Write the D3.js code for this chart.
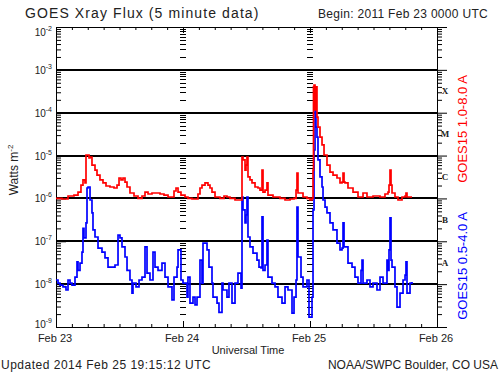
<!DOCTYPE html>
<html>
<head>
<meta charset="utf-8">
<script src="https://cdn.jsdelivr.net/npm/d3@7"></script>
<style>
  body { margin: 0; background: #fff; }
  text { font-family: "Liberation Sans", Arial, sans-serif; fill: #222; }
</style>
</head>
<body>
<svg id="chart" width="500" height="375"></svg>
<script>
// GOES X-ray flux, 3 days starting at begin date, hours since begin
const beginDate = new Date(Date.UTC(2011, 1, 23));

// long channel 1.0-8.0 A (red)
const longHours = [0.0, 1.13, 2.27, 3.40, 4.16, 4.72, 5.10, 5.48, 5.67, 6.05, 6.24, 6.43, 6.80, 7.37, 7.75, 8.31, 8.88, 9.45, 10.20, 10.96,
  11.53, 11.91, 12.28, 12.66, 13.04, 13.42, 13.98, 14.74, 15.50, 16.25, 16.82, 17.39, 18.14, 18.90, 19.65, 20.41, 21.17, 21.73, 22.30, 22.68,
  23.06, 23.62, 24.38, 24.94, 25.70, 26.46, 26.83, 27.21, 27.59, 28.16, 28.72, 29.10, 29.48, 30.05, 30.99, 31.75, 32.31, 32.88, 33.83, 34.96,
  35.15, 35.34, 35.72, 35.91, 36.09, 36.28, 36.66, 37.04, 37.61, 38.17, 38.55, 38.93, 39.12, 39.50, 39.87, 40.06, 41.01, 42.33, 43.28, 44.22,
  44.98, 45.36, 45.54, 45.73, 46.68, 47.43, 48.00, 48.38, 48.57, 48.66, 48.76, 48.95, 49.13, 49.32, 49.51, 49.89, 50.27, 50.65, 51.21, 51.78,
  52.35, 53.10, 53.67, 54.05, 54.24, 54.43, 54.62, 55.18, 56.13, 57.07, 58.02, 58.77, 59.91, 61.23, 62.17, 62.74, 62.93, 63.12, 63.31, 63.50,
  64.06, 64.63, 65.39, 65.96, 66.14, 66.33, 67.28];
const longFlux = [1.0e-6, 9.7e-7, 1.14e-6, 1.2e-6, 1.41e-6, 2.05e-6, 2.7e-6, 2.3e-6, 1.03e-5, 1.03e-5, 8.8e-6, 9.2e-6, 6.0e-6, 4.6e-6, 3.5e-6, 2.7e-6, 2.3e-6, 1.95e-6, 1.85e-6, 1.75e-6,
  2.05e-6, 3.0e-6, 2.7e-6, 3.0e-6, 2.4e-6, 1.85e-6, 1.34e-6, 1.14e-6, 1.0e-6, 1.14e-6, 1.41e-6, 1.27e-6, 1.34e-6, 1.34e-6, 1.27e-6, 1.2e-6, 1.08e-6, 1.08e-6, 1.49e-6, 1.75e-6,
  1.41e-6, 1.2e-6, 1.08e-6, 1.0e-6, 9.7e-7, 9.7e-7, 1.27e-6, 1.75e-6, 2.05e-6, 2.3e-6, 2.05e-6, 1.75e-6, 1.41e-6, 1.08e-6, 1.0e-6, 1.14e-6, 1.08e-6, 1.0e-6, 9.2e-7, 9.2e-7,
  9.2e-6, 7.9e-6, 4.6e-6, 6.0e-6, 9.2e-6, 3.2e-6, 2.7e-6, 2.3e-6, 1.85e-6, 1.75e-6, 1.57e-6, 4.6e-6, 1.41e-6, 1.57e-6, 2.3e-6, 1.2e-6, 1.08e-6, 1.0e-6, 9.2e-7, 9.7e-7,
  1.0e-6, 1.57e-6, 3.9e-6, 1.34e-6, 1.08e-6, 1.0e-6, 9.2e-7, 1.0e-6, 4.6e-6, 4.0e-4, 4.4e-4, 1.16e-4, 4.0e-4, 7.9e-5, 4.6e-5, 2.7e-5, 1.77e-5, 1.03e-5, 6.0e-6, 4.1e-6,
  3.5e-6, 3.0e-6, 2.3e-6, 2.4e-6, 3.9e-6, 2.4e-6, 2.3e-6, 1.75e-6, 1.41e-6, 1.08e-6, 1.34e-6, 1.08e-6, 1.14e-6, 1.08e-6, 1.27e-6, 1.41e-6, 2.05e-6, 4.6e-6, 2.05e-6, 1.34e-6,
  1.08e-6, 9.2e-7, 1.08e-6, 1.14e-6, 1.34e-6, 1.08e-6, 1.08e-6];

// short channel 0.5-4.0 A (blue)
const shortHours = [0.00, 0.38, 0.76, 1.32, 1.89, 2.27, 2.65, 3.02, 3.59, 3.97, 4.16, 4.54, 4.91, 5.10, 5.29, 5.67, 5.86, 6.05, 6.43, 6.80,
  6.99, 7.37, 7.94, 8.69, 9.26, 9.83, 10.58, 11.15, 11.72, 12.09, 12.47, 13.04, 13.42, 13.98, 14.36, 14.55, 15.12, 15.69, 16.25, 16.82,
  17.20, 17.76, 18.33, 18.71, 19.28, 20.03, 20.60, 21.17, 21.92, 22.30, 22.87, 23.06, 23.62, 24.00, 24.76, 24.94, 25.32, 25.89, 26.27, 26.65,
  27.21, 27.59, 27.78, 28.54, 28.91, 29.48, 29.67, 30.43, 30.80, 31.37, 31.56, 32.31, 32.69, 33.26, 33.83, 34.39, 34.96, 35.15, 35.34, 35.72,
  35.91, 36.09, 36.28, 36.66, 37.23, 37.98, 38.36, 38.74, 38.93, 39.12, 39.50, 39.87, 40.06, 40.82, 41.39, 41.95, 42.71, 43.28, 43.84, 44.60,
  44.98, 45.36, 45.54, 45.73, 46.30, 46.68, 47.43, 47.81, 48.38, 48.57, 48.76, 48.95, 49.13, 49.32, 49.51, 49.89, 50.27, 50.46, 50.84, 51.21,
  51.78, 52.35, 53.10, 53.67, 54.05, 54.24, 54.43, 55.18, 55.94, 56.50, 57.07, 57.64, 57.83, 58.02, 58.77, 59.34, 59.91, 60.66, 61.23, 61.80,
  62.55, 62.74, 62.93, 63.12, 63.31, 63.50, 64.06, 64.44, 65.01, 65.58, 65.96, 66.14, 66.33, 66.90, 67.28];
const shortFlux = [1.25e-8, 1.06e-8, 9.5e-9, 8.6e-9, 7.3e-9, 1.25e-8, 1.06e-8, 9.5e-9, 1.46e-8, 3.3e-8, 2.1e-8, 3.1e-8, 5.6e-8, 2.0e-7, 1.2e-7, 2.7e-7, 1.75e-6, 1.85e-6, 9.2e-7, 4.6e-7,
  1.84e-7, 1.26e-7, 6.9e-8, 5.6e-8, 4.1e-8, 2.5e-8, 2.5e-8, 2.8e-8, 1.4e-7, 1.2e-7, 7.4e-8, 4.3e-8, 2.1e-8, 1.25e-8, 6.2e-9, 1.06e-8, 8.6e-9, 1.25e-8, 1.46e-8, 7.4e-8,
  1.8e-8, 1.25e-8, 5.6e-8, 2.5e-8, 2.1e-8, 3.1e-8, 1.46e-8, 8.6e-9, 4.3e-9, 1.46e-8, 2.5e-8, 6.3e-8, 1.25e-8, 1.06e-8, 5.0e-9, 1.46e-8, 3.6e-9, 5.0e-9, 3.3e-9, 5.0e-9,
  3.65e-8, 1.06e-8, 9.1e-8, 6.3e-8, 2.5e-8, 1.06e-8, 5.0e-9, 3.6e-9, 2.2e-9, 1.06e-8, 7.3e-9, 5.0e-9, 1.06e-8, 3.6e-9, 1.06e-8, 1.8e-8, 8.1e-9, 1.08e-6, 5.4e-7, 2.7e-7,
  4.1e-7, 1.08e-6, 1.26e-7, 7.4e-8, 5.3e-8, 3.65e-8, 2.5e-8, 2.4e-8, 3.7e-7, 2.1e-8, 2.8e-8, 1.07e-7, 1.46e-8, 1.06e-8, 8.6e-9, 5.0e-9, 3.6e-9, 8.6e-9, 7.3e-9, 2.1e-9,
  5.0e-9, 1.25e-8, 6.3e-7, 4.3e-8, 1.46e-8, 8.6e-9, 1.25e-8, 1.7e-9, 5.0e-9, 5.4e-7, 1.35e-5, 1.5e-4, 4.6e-5, 2.7e-5, 7.9e-6, 3.2e-6, 1.85e-6, 9.2e-7, 6.3e-7, 4.6e-7,
  2.7e-7, 1.84e-7, 9.1e-8, 6.3e-8, 6.9e-8, 2.7e-7, 7.4e-8, 3.1e-8, 2.5e-8, 1.46e-8, 1.06e-8, 2.1e-8, 3.65e-8, 1.06e-8, 1.25e-8, 8.6e-9, 1.06e-8, 7.3e-9, 1.46e-8, 1.06e-8,
  3.65e-8, 2.1e-8, 6.3e-8, 3.5e-7, 3.65e-8, 2.5e-8, 8.6e-9, 2.9e-9, 6.2e-9, 1.25e-8, 1.63e-8, 3.3e-8, 6.2e-9, 1.06e-8, 1.12e-8];

const decades = [1e-2, 1e-3, 1e-4, 1e-5, 1e-6, 1e-7, 1e-8, 1e-9];
const decadeLabels = ["-2", "-3", "-4", "-5", "-6", "-7", "-8", "-9"];
const flareClasses = ["X", "M", "C", "B", "A"];
const flareClassFlux = [1e-4, 1e-5, 1e-6, 1e-7, 1e-8];
const dayLabels = ["Feb 23", "Feb 24", "Feb 25", "Feb 26"];

const svg = d3.select("#chart");
const pLeft = 56, pRight = 437, pTop = 27, pBottom = 327;

const x = d3.scaleUtc()
  .domain([beginDate, d3.utcDay.offset(beginDate, 3)])
  .range([pLeft, pRight]);
const y = d3.scaleLog().domain([1e-9, 1e-2]).range([pBottom, pTop]);

const toDate = h => new Date(beginDate.getTime() + h * 3600e3);
const longData = longHours.map((h, i) => ({t: toDate(h), v: longFlux[i]}));
const shortData = shortHours.map((h, i) => ({t: toDate(h), v: shortFlux[i]}));

// minor log ticks 2..9 in each decade
const minorTicks = [];
decades.slice(1).forEach(d => { for (let m = 2; m <= 9; m++) minorTicks.push(d * m); });
const days = x.ticks(d3.utcDay.every(1));

// horizontal grid lines
svg.append("g").selectAll("line")
  .data(decades.slice(1, -1))
  .enter().append("line")
  .attr("x1", pLeft).attr("x2", pRight)
  .attr("y1", d => Math.round(y(d))).attr("y2", d => Math.round(y(d)))
  .attr("stroke", "#000").attr("stroke-width", 2)
  .attr("shape-rendering", "crispEdges");

// minor tick columns at day boundaries
days.slice(1, -1).forEach(day => {
  svg.append("g").selectAll("line")
    .data(minorTicks)
    .enter().append("line")
    .attr("x1", Math.round(x(day)) - 3).attr("x2", Math.round(x(day)) + 3)
    .attr("y1", d => Math.round(y(d)) + 0.5).attr("y2", d => Math.round(y(d)) + 0.5)
    .attr("stroke", "#000").attr("stroke-width", 1);
});

// frame axes
function styleAxis(g) {
  g.select(".domain").attr("stroke", "#000");
  g.selectAll(".tick line").attr("stroke", "#000");
  g.selectAll("text").remove();
}
const hourTicks = x.ticks(d3.utcHour.every(3));
svg.append("g").attr("transform", `translate(0,${pTop})`)
  .call(d3.axisTop(x).tickValues(hourTicks).tickSize(-3).tickSizeOuter(0)).call(styleAxis);
svg.append("g").attr("transform", `translate(0,${pTop})`)
  .call(d3.axisTop(x).tickValues(days).tickSize(-6).tickSizeOuter(0)).call(styleAxis);
svg.append("g").attr("transform", `translate(0,${pBottom})`)
  .call(d3.axisBottom(x).tickValues(hourTicks).tickSize(-3).tickSizeOuter(0)).call(styleAxis);
svg.append("g").attr("transform", `translate(0,${pBottom})`)
  .call(d3.axisBottom(x).tickValues(days).tickSize(-6).tickSizeOuter(0)).call(styleAxis);

[[pLeft, d3.axisLeft, -1], [pRight, d3.axisRight, 1]].forEach(([px, axisFn, s]) => {
  svg.append("g").attr("transform", `translate(${px},0)`)
    .call(axisFn(y).tickValues(minorTicks).tickSize(5 * s).tickSizeOuter(0)).call(styleAxis);
  svg.append("g").attr("transform", `translate(${px},0)`)
    .call(axisFn(y).tickValues(decades).tickSize(10 * s).tickSizeOuter(0)).call(styleAxis);
});

// y tick labels (end labels nudged inside the frame)
const yl = svg.append("g").selectAll("text")
  .data(decades)
  .enter().append("text")
  .attr("x", 52)
  .attr("y", (d, i) => y(d) + 4 + (i === 0 ? 5 : 0) - (i === decades.length - 1 ? 3 : 0))
  .attr("text-anchor", "end").attr("font-size", 10);
yl.append("tspan").text("10");
yl.append("tspan").attr("dy", -5).attr("font-size", 7).text((d, i) => decadeLabels[i]);

// flare class letters
svg.append("g").selectAll("text")
  .data(flareClasses)
  .enter().append("text")
  .attr("x", 445).attr("y", (d, i) => y(flareClassFlux[i] * Math.sqrt(10)) + 3)
  .attr("text-anchor", "middle")
  .style("font-family", "'Liberation Serif', serif").style("font-weight", "bold")
  .attr("font-size", 9).text(d => d);

// day labels
svg.append("g").selectAll("text")
  .data(days)
  .enter().append("text")
  .attr("x", d => x(d) - 1).attr("y", 342)
  .attr("text-anchor", "middle").attr("font-size", 11)
  .text((d, i) => dayLabels[i]);

// data lines
svg.append("clipPath").attr("id", "plotclip")
  .append("rect").attr("x", pLeft).attr("y", pTop).attr("width", pRight - pLeft).attr("height", pBottom - pTop);
const line = d3.line().x(d => x(d.t)).y(d => y(d.v)).curve(d3.curveStepAfter);
svg.append("path").datum(shortData)
  .attr("clip-path", "url(#plotclip)")
  .attr("d", line).attr("fill", "none").attr("stroke", "#0000ff").attr("stroke-width", 1.7);
svg.append("path").datum(longData)
  .attr("clip-path", "url(#plotclip)")
  .attr("d", line).attr("fill", "none").attr("stroke", "#ff0000").attr("stroke-width", 1.7);

// titles and notes
svg.append("text").attr("x", 25).attr("y", 18).attr("font-size", 14)
  .attr("letter-spacing", 1.1).text("GOES Xray Flux (5 minute data)");
svg.append("text").attr("x", 318).attr("y", 18).attr("font-size", 12)
  .attr("letter-spacing", 0.3).text("Begin: 2011 Feb 23 0000 UTC");
svg.append("text").attr("x", 248).attr("y", 354).attr("text-anchor", "middle").attr("font-size", 11).text("Universal Time");
svg.append("text").attr("x", 1).attr("y", 369).attr("font-size", 12)
  .attr("letter-spacing", 0.5).text("Updated 2014 Feb 25 19:15:12 UTC");
svg.append("text").attr("x", 498).attr("y", 369).attr("text-anchor", "end").attr("font-size", 12).text("NOAA/SWPC Boulder, CO USA");

const yt = svg.append("text").attr("transform", "translate(18,170) rotate(-90)")
  .attr("text-anchor", "middle").attr("font-size", 12);
yt.append("tspan").text("Watts m");
yt.append("tspan").attr("dy", -5).attr("font-size", 8).text("-2");

svg.append("text").attr("transform", "translate(467,129) rotate(-90)")
  .attr("text-anchor", "middle").attr("font-size", 13).style("fill", "#ff0000")
  .text("GOES15 1.0-8.0 A");
svg.append("text").attr("transform", "translate(467,266) rotate(-90)")
  .attr("text-anchor", "middle").attr("font-size", 13).style("fill", "#0000ff")
  .text("GOES15 0.5-4.0 A");
</script>
</body>
</html>
